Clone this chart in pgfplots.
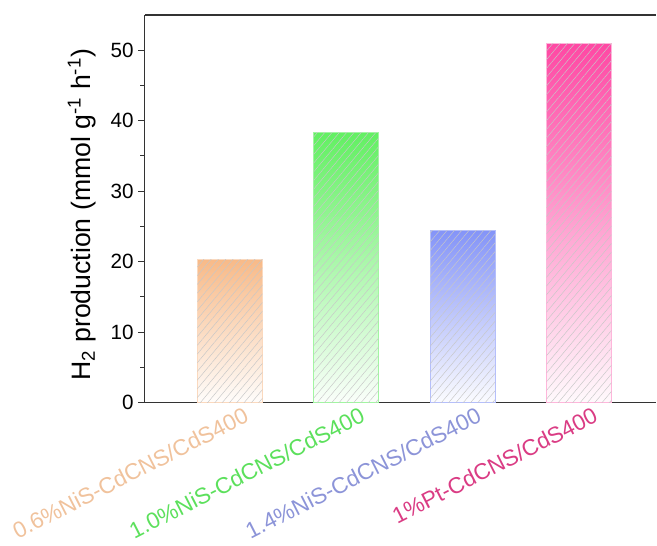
\documentclass[border=0pt]{standalone}
\usepackage{fontspec}
\setmainfont{Liberation Sans}
\usepackage{pgfplots}
\pgfplotsset{compat=1.18}
\usetikzlibrary{patterns.meta}
\definecolor{c1}{HTML}{F8BA88}
\definecolor{c2}{HTML}{62F062}
\definecolor{c3}{HTML}{8494F8}
\definecolor{c4}{HTML}{FF48A4}
\definecolor{l1}{HTML}{F0C29C}
\definecolor{l2}{HTML}{5CE05C}
\definecolor{l3}{HTML}{8C94D8}
\definecolor{l4}{HTML}{DA3C84}
\definecolor{axc}{HTML}{333333}
\tikzset{hatch/.style={draw=none, pattern={Lines[angle=50,distance=4.2pt,line width=0.35pt]}, pattern color=black!22}}
\begin{document}
\begin{tikzpicture}
\begin{axis}[
  name=ax,
  scale only axis, width=384pt, height=291pt,
  xmin=-0.73, xmax=3.665, ymin=0, ymax=55,
  axis x line*=bottom, axis y line*=left,
  axis line style={axc, line width=0.9pt},
  ytick={0,10,20,30,40,50}, minor y tick num=1,
  tick align=outside, major tick length=5pt, minor tick length=3.5pt,
  every tick/.style={axc, line width=0.8pt},
  xtick={0,1,2,3}, xtick style={draw=none},
  xticklabels={{\color{l1}0.6\%NiS-CdCNS/CdS400},{\color{l2}1.0\%NiS-CdCNS/CdS400},{\color{l3}1.4\%NiS-CdCNS/CdS400},{\color{l4}1\%Pt-CdCNS/CdS400}},
  x tick label style={rotate=27, anchor=north east, font=\fontsize{17}{20}\selectfont, xshift=13pt, yshift=1pt},
  y tick label style={font=\fontsize{15.5}{18}\selectfont},
  /pgf/number format/assume math mode=true,
  ylabel={H\textsubscript{2} production (mmol g\textsuperscript{-1} h\textsuperscript{-1})},
  ylabel style={font=\fontsize{20}{24}\selectfont, at={(axis description cs:-0.123,0.485)}, anchor=center, rotate=0},
  ybar, bar width=0.558, bar shift=0pt,
]
\addplot[draw=c1!55, line width=0.6pt, top color=c1, middle color=c1!62!white, bottom color=c1!3!white] coordinates {(0,20.25)};
\addplot[hatch] coordinates {(0,20.25)};
\addplot[draw=c2!60, line width=0.6pt, top color=c2, middle color=c2!62!white, bottom color=c2!3!white] coordinates {(1,38.3)};
\addplot[hatch] coordinates {(1,38.3)};
\addplot[draw=c3!60, line width=0.6pt, top color=c3, middle color=c3!62!white, bottom color=c3!3!white] coordinates {(2,24.4)};
\addplot[hatch] coordinates {(2,24.4)};
\addplot[draw=c4!40, line width=0.6pt, top color=c4, middle color=c4!62!white, bottom color=c4!3!white] coordinates {(3,50.9)};
\addplot[hatch] coordinates {(3,50.9)};
\draw[axc, line width=0.9pt] (rel axis cs:0,1) -- (rel axis cs:1,1);
\end{axis}
\path ([xshift=-108.75pt,yshift=-102.75pt]ax.south west) rectangle ([yshift=11.25pt]ax.north east);
\end{tikzpicture}
\end{document}
